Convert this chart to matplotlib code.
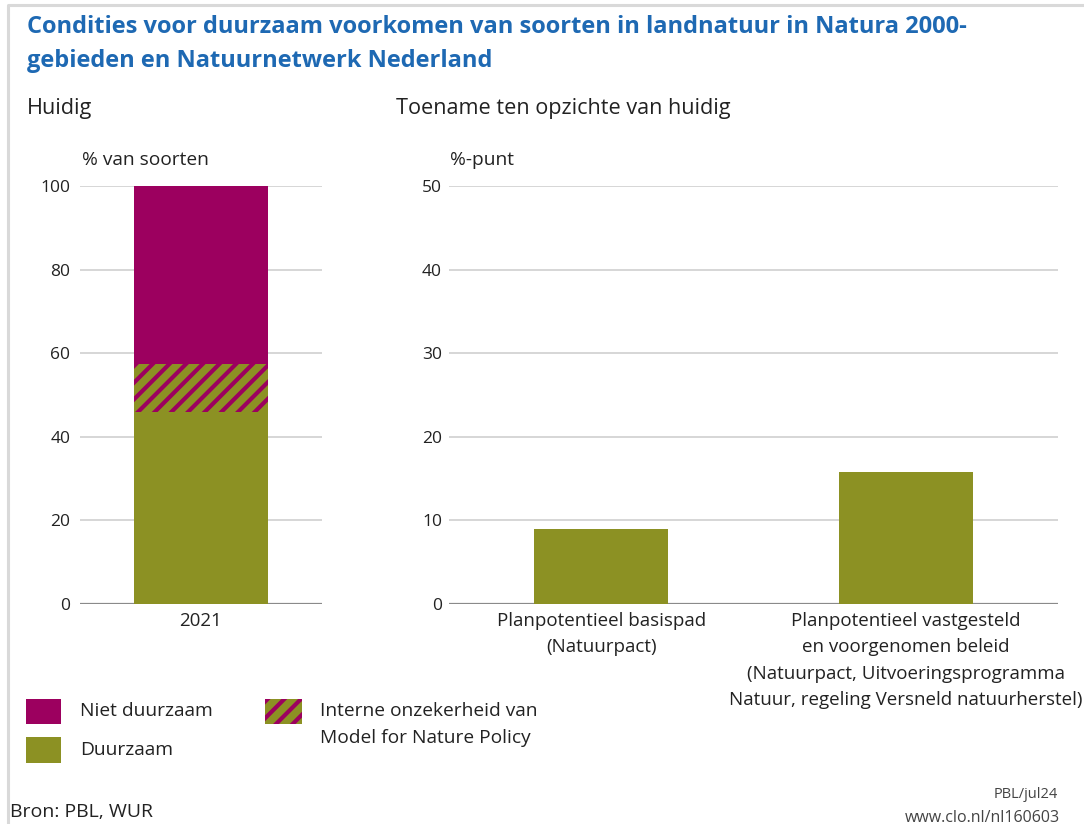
import matplotlib
matplotlib.use("Agg")
import matplotlib.pyplot as plt
from matplotlib.patches import Rectangle

plt.rcParams["font.family"] = ["Open Sans", "DejaVu Sans"]
plt.rcParams["hatch.linewidth"] = 3.0

# data
years = ["2021"]
duurzaam = [46.0]
onzeker = [11.5]
niet_duurzaam = [42.5]

categories = [
    "Planpotentieel basispad\n(Natuurpact)",
    "Planpotentieel vastgesteld\nen voorgenomen beleid\n(Natuurpact, Uitvoeringsprogramma\nNatuur, regeling Versneld natuurherstel)",
]
toename = [9.0, 15.8]

left_ticks = [0, 20, 40, 60, 80, 100]
right_ticks = [0, 10, 20, 30, 40, 50]

MAGENTA = "#9C005F"
OLIVE = "#8C9123"
BLUE = "#1E69B3"
TXT = "#222222"
LBL = 13.8

W, H = 1084, 824
fig = plt.figure(figsize=(W / 100, H / 100), dpi=100)


def px_axes(x0, y0, x1, y1):
    # pixel box (top-left origin) -> figure fraction
    return fig.add_axes([x0 / W, 1 - y1 / H, (x1 - x0) / W, (y1 - y0) / H])


# background layer for texts, legend and frame
bg = fig.add_axes([0, 0, 1, 1])
bg.set_xlim(0, W)
bg.set_ylim(H, 0)
bg.axis("off")
bg.plot([8, 8, W], [H, 5, 5], color="#d9d9d9", lw=2.2, solid_capstyle="butt")

bg.text(27, 27, "Condities voor duurzaam voorkomen van soorten in landnatuur in Natura 2000-",
        color=BLUE, fontsize=17, fontweight="bold", va="center", ha="left")
bg.text(27, 61, "gebieden en Natuurnetwerk Nederland",
        color=BLUE, fontsize=17, fontweight="bold", va="center", ha="left")
bg.text(27, 108, "Huidig", fontsize=15.6, color=TXT, va="center")
bg.text(396, 108, "Toename ten opzichte van huidig", fontsize=15.6, color=TXT, va="center")


def style_axes(ax, ticks, ymax, pad):
    ax.set_ylim(0, ymax)
    ax.set_yticks(ticks)
    ax.yaxis.grid(True, color="#cccccc", lw=1.1)
    ax.set_axisbelow(True)
    for s in ax.spines.values():
        s.set_visible(False)
    ax.axhline(0, color="#8a8a8a", lw=1.6, zorder=1)
    ax.tick_params(axis="y", length=0, pad=pad, labelsize=12.5, labelcolor=TXT)
    ax.tick_params(axis="x", length=0, pad=6, labelsize=13.5, labelcolor=TXT)


# left panel: current situation
axl = px_axes(80, 186, 322, 604)
xl = range(len(years))
axl.bar(xl, duurzaam, width=0.554, color=OLIVE, lw=0, zorder=2)
axl.bar(xl, onzeker, bottom=duurzaam, width=0.554, color=OLIVE,
        edgecolor=MAGENTA, hatch="//", lw=0, zorder=2)
bot = [d + o for d, o in zip(duurzaam, onzeker)]
axl.bar(xl, niet_duurzaam, bottom=bot, width=0.554, color=MAGENTA, lw=0, zorder=2)
axl.set_xlim(-0.5, 0.5)
style_axes(axl, left_ticks, 100, 7)
axl.set_xticks(list(xl))
axl.set_xticklabels(years)
bg.text(82, 160, "% van soorten", fontsize=LBL, color=TXT, va="center")

# right panel: increase
axr = px_axes(449, 186, 1058, 604)
xr = range(len(categories))
axr.bar(xr, toename, width=0.44, color=OLIVE, lw=0, zorder=2)
axr.set_xlim(-0.5, 1.5)
style_axes(axr, right_ticks, 50, 5)
axr.set_xticks(list(xr))
axr.set_xticklabels(categories, linespacing=1.58)
bg.text(450, 160, "%-punt", fontsize=LBL, color=TXT, va="center")

# legend
bg.add_patch(Rectangle((26, 699), 35, 25, color=MAGENTA, lw=0))
bg.add_patch(Rectangle((26, 737), 35, 26, color=OLIVE, lw=0))
bg.add_patch(Rectangle((265, 699), 37, 25, facecolor=OLIVE, edgecolor=MAGENTA,
                       hatch="//", lw=0))
bg.text(80, 711, "Niet duurzaam", fontsize=LBL, color=TXT, va="center")
bg.text(80, 750, "Duurzaam", fontsize=LBL, color=TXT, va="center")
bg.text(320, 711, "Interne onzekerheid van", fontsize=LBL, color=TXT, va="center")
bg.text(320, 738, "Model for Nature Policy", fontsize=LBL, color=TXT, va="center")

# footer
bg.text(10, 812, "Bron: PBL, WUR", fontsize=14, color=TXT, va="center")
bg.text(1058, 795, "PBL/jul24", fontsize=10.5, color="#444444", va="center", ha="right")
bg.text(1060, 818, "www.clo.nl/nl160603", fontsize=11.5, color="#444444", va="center", ha="right")

fig.savefig("out.png", dpi=100)
